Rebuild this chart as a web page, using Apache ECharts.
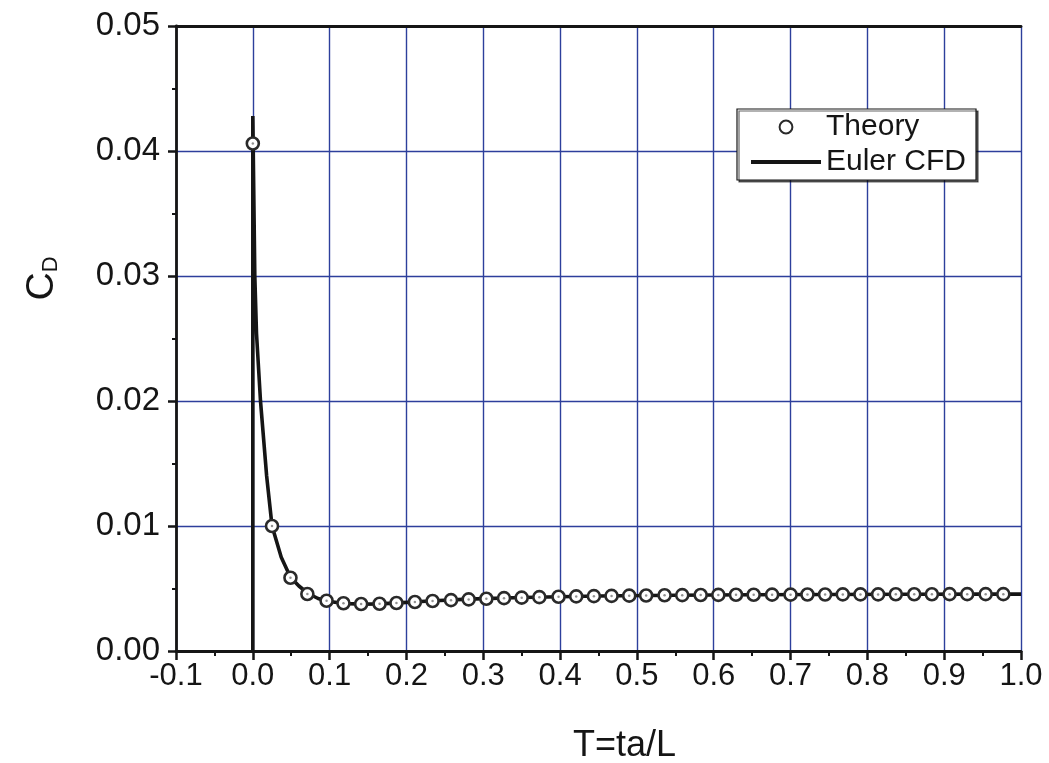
<!DOCTYPE html>
<html><head><meta charset="utf-8">
<script src="https://cdn.jsdelivr.net/npm/echarts@6/dist/echarts.min.js"></script>
<style>html,body{margin:0;padding:0;background:#fff}#c{width:1049px;height:763px}</style>
</head><body><div id="c"></div>
<script>
// ---- data ----
const xTickLabels = ['-0.1','0.0','0.1','0.2','0.3','0.4','0.5','0.6','0.7','0.8','0.9','1.0'];
const yTickLabels = ['0.00','0.01','0.02','0.03','0.04','0.05'];

const theoryT = [0.000,0.025,0.049,0.071,0.096,0.118,0.141,0.165,0.187,0.211,0.234,0.258,0.281,0.304,0.327,0.350,0.373,0.398,0.421,0.444,0.467,0.490,0.512,0.536,0.559,0.583,0.606,0.629,0.652,0.676,0.700,0.722,0.745,0.768,0.791,0.814,0.837,0.861,0.884,0.907,0.930,0.954,0.977];
const theoryCD = [0.0406,0.0100,0.00586,0.00456,0.00402,0.00382,0.00376,0.00378,0.00384,0.00392,0.00400,0.00407,0.00413,0.00418,0.00423,0.00427,0.00431,0.00434,0.00437,0.00439,0.00441,0.00443,0.00444,0.00446,0.00447,0.00448,0.00449,0.00450,0.00450,0.00451,0.00451,0.00452,0.00452,0.00453,0.00453,0.00453,0.00454,0.00454,0.00454,0.00455,0.00455,0.00455,0.00455];

const cfdT = [0,0,0.0026,0.0048,0.010,0.018,0.025,0.037,0.049,0.060,0.072,0.085,0.096,0.118,0.141,0.165,0.19,0.23,0.28,0.35,0.45,0.55,0.65,0.75,0.85,0.95,1.0];
const cfdCD = [0,0.0428,0.030,0.0254,0.020,0.0140,0.0100,0.0075,0.0059,0.0052,0.0046,0.0042,0.0040,0.0038,0.00375,0.00377,0.00385,0.00400,0.00415,0.00428,0.00440,0.00446,0.00450,0.00452,0.00454,0.00455,0.00455];

const FONT = '"Liberation Sans", Arial, sans-serif';
const INK = '#151515';
const GRIDBLUE = '#2d3f9c';
const pairs = (xs, ys) => xs.map((x, i) => [x, ys[i]]);
const pick = (labels) => (v) => labels.find(l => Math.abs(parseFloat(l) - v) < 1e-9) || '';

const chart = echarts.init(document.getElementById('c'), null, {renderer: 'canvas'});
chart.setOption({
  animation: false,
  backgroundColor: '#fff',
  grid: {left: 176, right: 28, top: 26, bottom: 112, outerBoundsMode: 'none', containLabel: false},
  xAxis: [{
    type: 'value', min: -0.1, max: 1.0, interval: 0.1, position: 'bottom',
    axisLine: {show: true, onZero: false, lineStyle: {color: INK, width: 2.8}},
    axisTick: {show: true, inside: false, length: 9, lineStyle: {color: INK, width: 2.5}},
    minorTick: {show: true, splitNumber: 2, length: 5, lineStyle: {color: INK, width: 2}},
    splitLine: {show: true, lineStyle: {color: GRIDBLUE, width: 1.4}},
    axisLabel: {margin: 10, fontSize: 31, color: INK, fontFamily: FONT, formatter: pick(xTickLabels)},
    name: 'T=ta/L', nameLocation: 'middle', nameGap: 77,
    nameTextStyle: {fontSize: 36, color: INK, fontFamily: FONT, padding: [0, 0, 0, 52]}
  }, {
    type: 'value', min: -0.1, max: 1.0, interval: 0.1, position: 'top',
    axisLine: {show: true, onZero: false, lineStyle: {color: INK, width: 2.8}},
    axisTick: {show: false}, axisLabel: {show: false}, splitLine: {show: false}
  }],
  yAxis: [{
    type: 'value', min: 0, max: 0.05, interval: 0.01,
    axisLine: {show: true, onZero: false, lineStyle: {color: INK, width: 2.8}},
    axisTick: {show: true, inside: false, length: 8, lineStyle: {color: INK, width: 2.5}},
    minorTick: {show: true, splitNumber: 2, length: 4, lineStyle: {color: INK, width: 2}},
    splitLine: {show: true, lineStyle: {color: GRIDBLUE, width: 1.4}},
    axisLabel: {margin: 16, fontSize: 33, color: INK, fontFamily: FONT, formatter: pick(yTickLabels)},
    name: '{c|C}{d|D}', nameLocation: 'middle', nameGap: 114, nameRotate: 90,
    nameTextStyle: {color: INK, fontFamily: FONT, padding: [0, 0, 0, 120], rich: {
      c: {fontSize: 39, color: INK, fontFamily: FONT},
      d: {fontSize: 22, color: INK, fontFamily: FONT, padding: [18, 0, 0, 0]}
    }}
  }],
  legend: {
    data: ['Theory', {name: 'Euler CFD', itemStyle: {color: 'rgba(0,0,0,0)', borderWidth: 0},
                      lineStyle: {color: INK, width: 4}}],
    orient: 'vertical', left: 737, top: 109,
    itemWidth: 70, itemHeight: 16, itemGap: 5, padding: [3, 10, 3, 12],
    borderColor: INK, borderWidth: 1.2, backgroundColor: '#fff',
    shadowColor: 'rgba(0,0,0,0.6)', shadowOffsetX: 2, shadowOffsetY: 2, shadowBlur: 0,
    textStyle: {fontSize: 30, color: INK, fontFamily: FONT}, selectedMode: false
  },
  series: [{
    name: 'Euler CFD', type: 'line', data: pairs(cfdT, cfdCD), symbol: 'none',
    lineStyle: {color: INK, width: 3.6}, itemStyle: {color: INK}, z: 2, silent: true
  }, {
    name: 'Theory', type: 'line', data: pairs(theoryT, theoryCD),
    symbol: 'circle', symbolSize: 12, showAllSymbol: true,
    lineStyle: {width: 0, opacity: 0},
    itemStyle: {color: '#fff', borderColor: '#2a2a2a', borderWidth: 2.6}, z: 3, silent: true
  }, {
    name: 'TheoryDot', type: 'scatter', data: pairs(theoryT, theoryCD),
    symbol: 'circle', symbolSize: 2.5, itemStyle: {color: '#777'}, z: 4, silent: true
  }]
});
</script></body></html>
